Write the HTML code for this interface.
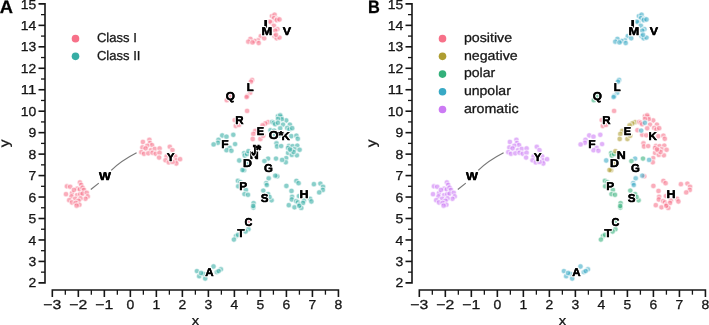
<!DOCTYPE html>
<html><head><meta charset="utf-8"><style>
html,body{margin:0;padding:0;background:#fff;}
svg{display:block;will-change:transform;filter:blur(0.3px);}
text{font-family:"Liberation Sans", sans-serif;fill:#161616;stroke:#161616;stroke-width:0.28px;}
</style></head><body>
<svg width="709" height="325" viewBox="0 0 709 325" text-rendering="geometricPrecision">
<defs><filter id="bl" x="-5%" y="-5%" width="110%" height="110%"><feGaussianBlur stdDeviation="0.6"/></filter></defs>
<rect width="709" height="325" fill="#fff"/>
<g stroke="#161616" stroke-width="1.6" fill="none">
<path d="M38.50,3.90 H45.00 V282.88 H38.50"/>
<line x1="38.50" y1="261.42" x2="45.0" y2="261.42"/>
<line x1="38.50" y1="239.96" x2="45.0" y2="239.96"/>
<line x1="38.50" y1="218.50" x2="45.0" y2="218.50"/>
<line x1="38.50" y1="197.04" x2="45.0" y2="197.04"/>
<line x1="38.50" y1="175.58" x2="45.0" y2="175.58"/>
<line x1="38.50" y1="154.12" x2="45.0" y2="154.12"/>
<line x1="38.50" y1="132.66" x2="45.0" y2="132.66"/>
<line x1="38.50" y1="111.20" x2="45.0" y2="111.20"/>
<line x1="38.50" y1="89.74" x2="45.0" y2="89.74"/>
<line x1="38.50" y1="68.28" x2="45.0" y2="68.28"/>
<line x1="38.50" y1="46.82" x2="45.0" y2="46.82"/>
<line x1="38.50" y1="25.36" x2="45.0" y2="25.36"/>
<line x1="41.00" y1="272.15" x2="45.0" y2="272.15" stroke-width="1.3"/>
<line x1="41.00" y1="250.69" x2="45.0" y2="250.69" stroke-width="1.3"/>
<line x1="41.00" y1="229.23" x2="45.0" y2="229.23" stroke-width="1.3"/>
<line x1="41.00" y1="207.77" x2="45.0" y2="207.77" stroke-width="1.3"/>
<line x1="41.00" y1="186.31" x2="45.0" y2="186.31" stroke-width="1.3"/>
<line x1="41.00" y1="164.85" x2="45.0" y2="164.85" stroke-width="1.3"/>
<line x1="41.00" y1="143.39" x2="45.0" y2="143.39" stroke-width="1.3"/>
<line x1="41.00" y1="121.93" x2="45.0" y2="121.93" stroke-width="1.3"/>
<line x1="41.00" y1="100.47" x2="45.0" y2="100.47" stroke-width="1.3"/>
<line x1="41.00" y1="79.01" x2="45.0" y2="79.01" stroke-width="1.3"/>
<line x1="41.00" y1="57.55" x2="45.0" y2="57.55" stroke-width="1.3"/>
<line x1="41.00" y1="36.09" x2="45.0" y2="36.09" stroke-width="1.3"/>
<line x1="41.00" y1="14.63" x2="45.0" y2="14.63" stroke-width="1.3"/>
<path d="M52.32,297.00 V290.00 H338.43 V297.00"/>
<line x1="78.33" y1="290.0" x2="78.33" y2="297.00"/>
<line x1="104.34" y1="290.0" x2="104.34" y2="297.00"/>
<line x1="130.35" y1="290.0" x2="130.35" y2="297.00"/>
<line x1="156.36" y1="290.0" x2="156.36" y2="297.00"/>
<line x1="182.37" y1="290.0" x2="182.37" y2="297.00"/>
<line x1="208.38" y1="290.0" x2="208.38" y2="297.00"/>
<line x1="234.39" y1="290.0" x2="234.39" y2="297.00"/>
<line x1="260.40" y1="290.0" x2="260.40" y2="297.00"/>
<line x1="286.41" y1="290.0" x2="286.41" y2="297.00"/>
<line x1="312.42" y1="290.0" x2="312.42" y2="297.00"/>
<line x1="65.32" y1="290.0" x2="65.32" y2="294.70" stroke-width="1.3"/>
<line x1="91.33" y1="290.0" x2="91.33" y2="294.70" stroke-width="1.3"/>
<line x1="117.34" y1="290.0" x2="117.34" y2="294.70" stroke-width="1.3"/>
<line x1="143.35" y1="290.0" x2="143.35" y2="294.70" stroke-width="1.3"/>
<line x1="169.37" y1="290.0" x2="169.37" y2="294.70" stroke-width="1.3"/>
<line x1="195.38" y1="290.0" x2="195.38" y2="294.70" stroke-width="1.3"/>
<line x1="221.38" y1="290.0" x2="221.38" y2="294.70" stroke-width="1.3"/>
<line x1="247.39" y1="290.0" x2="247.39" y2="294.70" stroke-width="1.3"/>
<line x1="273.40" y1="290.0" x2="273.40" y2="294.70" stroke-width="1.3"/>
<line x1="299.41" y1="290.0" x2="299.41" y2="294.70" stroke-width="1.3"/>
<line x1="325.43" y1="290.0" x2="325.43" y2="294.70" stroke-width="1.3"/>
</g>
<text x="36.30" y="287.48" font-size="12.93" text-anchor="end" textLength="7.76" lengthAdjust="spacingAndGlyphs">2</text>
<text x="36.30" y="266.02" font-size="12.93" text-anchor="end" textLength="7.76" lengthAdjust="spacingAndGlyphs">3</text>
<text x="36.30" y="244.56" font-size="12.93" text-anchor="end" textLength="7.76" lengthAdjust="spacingAndGlyphs">4</text>
<text x="36.30" y="223.10" font-size="12.93" text-anchor="end" textLength="7.76" lengthAdjust="spacingAndGlyphs">5</text>
<text x="36.30" y="201.64" font-size="12.93" text-anchor="end" textLength="7.76" lengthAdjust="spacingAndGlyphs">6</text>
<text x="36.30" y="180.18" font-size="12.93" text-anchor="end" textLength="7.76" lengthAdjust="spacingAndGlyphs">7</text>
<text x="36.30" y="158.72" font-size="12.93" text-anchor="end" textLength="7.76" lengthAdjust="spacingAndGlyphs">8</text>
<text x="36.30" y="137.26" font-size="12.93" text-anchor="end" textLength="7.76" lengthAdjust="spacingAndGlyphs">9</text>
<text x="36.30" y="115.80" font-size="12.93" text-anchor="end" textLength="15.52" lengthAdjust="spacingAndGlyphs">10</text>
<text x="36.30" y="94.34" font-size="12.93" text-anchor="end" textLength="15.52" lengthAdjust="spacingAndGlyphs">11</text>
<text x="36.30" y="72.88" font-size="12.93" text-anchor="end" textLength="15.52" lengthAdjust="spacingAndGlyphs">12</text>
<text x="36.30" y="51.42" font-size="12.93" text-anchor="end" textLength="15.52" lengthAdjust="spacingAndGlyphs">13</text>
<text x="36.30" y="29.96" font-size="12.93" text-anchor="end" textLength="15.52" lengthAdjust="spacingAndGlyphs">14</text>
<text x="36.30" y="8.50" font-size="12.93" text-anchor="end" textLength="15.52" lengthAdjust="spacingAndGlyphs">15</text>
<text x="52.32" y="308.70" font-size="12.93" text-anchor="middle" textLength="17.98" lengthAdjust="spacingAndGlyphs">−3</text>
<text x="78.33" y="308.70" font-size="12.93" text-anchor="middle" textLength="17.98" lengthAdjust="spacingAndGlyphs">−2</text>
<text x="104.34" y="308.70" font-size="12.93" text-anchor="middle" textLength="17.98" lengthAdjust="spacingAndGlyphs">−1</text>
<text x="130.35" y="308.70" font-size="12.93" text-anchor="middle" textLength="7.76" lengthAdjust="spacingAndGlyphs">0</text>
<text x="156.36" y="308.70" font-size="12.93" text-anchor="middle" textLength="7.76" lengthAdjust="spacingAndGlyphs">1</text>
<text x="182.37" y="308.70" font-size="12.93" text-anchor="middle" textLength="7.76" lengthAdjust="spacingAndGlyphs">2</text>
<text x="208.38" y="308.70" font-size="12.93" text-anchor="middle" textLength="7.76" lengthAdjust="spacingAndGlyphs">3</text>
<text x="234.39" y="308.70" font-size="12.93" text-anchor="middle" textLength="7.76" lengthAdjust="spacingAndGlyphs">4</text>
<text x="260.40" y="308.70" font-size="12.93" text-anchor="middle" textLength="7.76" lengthAdjust="spacingAndGlyphs">5</text>
<text x="286.41" y="308.70" font-size="12.93" text-anchor="middle" textLength="7.76" lengthAdjust="spacingAndGlyphs">6</text>
<text x="312.42" y="308.70" font-size="12.93" text-anchor="middle" textLength="7.76" lengthAdjust="spacingAndGlyphs">7</text>
<text x="338.43" y="308.70" font-size="12.93" text-anchor="middle" textLength="7.76" lengthAdjust="spacingAndGlyphs">8</text>
<text x="195.35" y="324.60" font-size="13.24" text-anchor="middle" textLength="7.40" lengthAdjust="spacingAndGlyphs">x</text>
<text x="0.00" y="0.00" font-size="13.99" text-anchor="middle" textLength="7.81" lengthAdjust="spacingAndGlyphs" transform="translate(9.30,143.3) rotate(-90)">y</text>
<text x="-0.2" y="12.9" font-size="18" font-weight="bold" textLength="13.23" lengthAdjust="spacingAndGlyphs" style="fill:#000">A</text>
<circle cx="75.50" cy="38.65" r="3.8" fill="#f77189"/>
<text x="96.90" y="42.00" font-size="13.03" text-anchor="start" textLength="39.90" lengthAdjust="spacingAndGlyphs">Class I</text>
<circle cx="75.50" cy="56.37" r="3.8" fill="#36ada4"/>
<text x="96.90" y="59.72" font-size="13.03" text-anchor="start" textLength="43.52" lengthAdjust="spacingAndGlyphs">Class II</text>
<path d="M90.8,189.5 L98.8,183.1 M111.2,170.4 Q121.0,160.8 136.6,152.8" fill="none" stroke="#777" stroke-width="1.2"/>
<g fill-opacity="0.58" stroke="#fff" stroke-opacity="0.58" stroke-width="1.1" filter="url(#bl)">
<circle cx="66.9" cy="186.3" r="2.7" fill="#f77189"/>
<circle cx="70.2" cy="186.8" r="2.7" fill="#f77189"/>
<circle cx="79.9" cy="182.4" r="2.7" fill="#f77189"/>
<circle cx="81.2" cy="184.9" r="2.7" fill="#f77189"/>
<circle cx="77.1" cy="188.6" r="2.7" fill="#f77189"/>
<circle cx="79.9" cy="189.5" r="2.7" fill="#f77189"/>
<circle cx="82.6" cy="187.7" r="2.7" fill="#f77189"/>
<circle cx="84.0" cy="190.0" r="2.7" fill="#f77189"/>
<circle cx="66.0" cy="194.2" r="2.7" fill="#f77189"/>
<circle cx="72.0" cy="193.2" r="2.7" fill="#f77189"/>
<circle cx="71.5" cy="196.5" r="2.7" fill="#f77189"/>
<circle cx="77.1" cy="195.1" r="2.7" fill="#f77189"/>
<circle cx="80.3" cy="194.2" r="2.7" fill="#f77189"/>
<circle cx="82.6" cy="193.7" r="2.7" fill="#f77189"/>
<circle cx="86.8" cy="192.8" r="2.7" fill="#f77189"/>
<circle cx="87.7" cy="196.5" r="2.7" fill="#f77189"/>
<circle cx="85.4" cy="198.8" r="2.7" fill="#f77189"/>
<circle cx="75.2" cy="198.8" r="2.7" fill="#f77189"/>
<circle cx="69.2" cy="200.2" r="2.7" fill="#f77189"/>
<circle cx="80.5" cy="198.5" r="2.7" fill="#f77189"/>
<circle cx="78.5" cy="200.8" r="2.7" fill="#f77189"/>
<circle cx="73.9" cy="190.0" r="2.7" fill="#f77189"/>
<circle cx="72.0" cy="202.5" r="2.7" fill="#f77189"/>
<circle cx="75.7" cy="202.9" r="2.7" fill="#f77189"/>
<circle cx="79.4" cy="204.8" r="2.7" fill="#f77189"/>
<circle cx="76.6" cy="205.7" r="2.7" fill="#f77189"/>
<circle cx="142.9" cy="142.0" r="2.7" fill="#f77189"/>
<circle cx="149.4" cy="139.8" r="2.7" fill="#f77189"/>
<circle cx="149.9" cy="143.1" r="2.7" fill="#f77189"/>
<circle cx="152.1" cy="145.2" r="2.7" fill="#f77189"/>
<circle cx="147.2" cy="145.8" r="2.7" fill="#f77189"/>
<circle cx="142.4" cy="147.4" r="2.7" fill="#f77189"/>
<circle cx="145.6" cy="148.5" r="2.7" fill="#f77189"/>
<circle cx="151.0" cy="150.1" r="2.7" fill="#f77189"/>
<circle cx="154.8" cy="149.0" r="2.7" fill="#f77189"/>
<circle cx="159.6" cy="148.5" r="2.7" fill="#f77189"/>
<circle cx="141.3" cy="152.2" r="2.7" fill="#f77189"/>
<circle cx="144.0" cy="153.8" r="2.7" fill="#f77189"/>
<circle cx="148.3" cy="153.3" r="2.7" fill="#f77189"/>
<circle cx="152.6" cy="152.8" r="2.7" fill="#f77189"/>
<circle cx="155.8" cy="153.8" r="2.7" fill="#f77189"/>
<circle cx="159.6" cy="152.8" r="2.7" fill="#f77189"/>
<circle cx="159.1" cy="157.6" r="2.7" fill="#f77189"/>
<circle cx="169.8" cy="146.8" r="2.7" fill="#f77189"/>
<circle cx="172.5" cy="150.1" r="2.7" fill="#f77189"/>
<circle cx="166.6" cy="156.5" r="2.7" fill="#f77189"/>
<circle cx="165.5" cy="160.3" r="2.7" fill="#f77189"/>
<circle cx="168.8" cy="162.4" r="2.7" fill="#f77189"/>
<circle cx="175.2" cy="156.5" r="2.7" fill="#f77189"/>
<circle cx="176.3" cy="160.3" r="2.7" fill="#f77189"/>
<circle cx="180.1" cy="159.2" r="2.7" fill="#f77189"/>
<circle cx="176.3" cy="163.5" r="2.7" fill="#f77189"/>
<circle cx="172.5" cy="161.9" r="2.7" fill="#f77189"/>
<circle cx="271.9" cy="16.1" r="2.7" fill="#f77189"/>
<circle cx="274.6" cy="14.7" r="2.7" fill="#f77189"/>
<circle cx="273.9" cy="18.2" r="2.7" fill="#f77189"/>
<circle cx="277.4" cy="18.9" r="2.7" fill="#f77189"/>
<circle cx="276.7" cy="20.2" r="2.7" fill="#f77189"/>
<circle cx="279.5" cy="19.5" r="2.7" fill="#f77189"/>
<circle cx="271.2" cy="22.3" r="2.7" fill="#f77189"/>
<circle cx="269.8" cy="21.6" r="2.7" fill="#f77189"/>
<circle cx="273.9" cy="25.8" r="2.7" fill="#f77189"/>
<circle cx="277.4" cy="29.2" r="2.7" fill="#f77189"/>
<circle cx="275.3" cy="30.6" r="2.7" fill="#f77189"/>
<circle cx="274.6" cy="36.2" r="2.7" fill="#f77189"/>
<circle cx="276.7" cy="38.3" r="2.7" fill="#f77189"/>
<circle cx="279.5" cy="37.6" r="2.7" fill="#f77189"/>
<circle cx="276.0" cy="34.8" r="2.7" fill="#f77189"/>
<circle cx="260.8" cy="36.2" r="2.7" fill="#f77189"/>
<circle cx="264.2" cy="38.3" r="2.7" fill="#f77189"/>
<circle cx="258.0" cy="40.3" r="2.7" fill="#f77189"/>
<circle cx="254.5" cy="41.0" r="2.7" fill="#f77189"/>
<circle cx="250.4" cy="38.9" r="2.7" fill="#f77189"/>
<circle cx="248.3" cy="41.7" r="2.7" fill="#f77189"/>
<circle cx="252.5" cy="42.4" r="2.7" fill="#f77189"/>
<circle cx="258.7" cy="43.1" r="2.7" fill="#f77189"/>
<circle cx="252.1" cy="79.9" r="2.7" fill="#f77189"/>
<circle cx="250.9" cy="81.7" r="2.7" fill="#f77189"/>
<circle cx="250.2" cy="92.8" r="2.7" fill="#f77189"/>
<circle cx="247.2" cy="95.9" r="2.7" fill="#f77189"/>
<circle cx="246.6" cy="97.1" r="2.7" fill="#f77189"/>
<circle cx="230.5" cy="96.5" r="2.7" fill="#f77189"/>
<circle cx="226.8" cy="100.2" r="2.7" fill="#f77189"/>
<circle cx="247.1" cy="110.9" r="2.7" fill="#f77189"/>
<circle cx="234.7" cy="120.1" r="2.7" fill="#f77189"/>
<circle cx="235.8" cy="126.0" r="2.7" fill="#f77189"/>
<circle cx="239.0" cy="124.9" r="2.7" fill="#f77189"/>
<circle cx="268.1" cy="122.2" r="2.7" fill="#f77189"/>
<circle cx="265.3" cy="123.5" r="2.7" fill="#f77189"/>
<circle cx="262.6" cy="125.3" r="2.7" fill="#f77189"/>
<circle cx="255.2" cy="130.9" r="2.7" fill="#f77189"/>
<circle cx="253.3" cy="133.9" r="2.7" fill="#f77189"/>
<circle cx="252.7" cy="139.0" r="2.7" fill="#f77189"/>
<circle cx="260.4" cy="139.0" r="2.7" fill="#f77189"/>
<circle cx="263.2" cy="135.8" r="2.7" fill="#f77189"/>
<circle cx="277.9" cy="116.3" r="2.7" fill="#36ada4"/>
<circle cx="281.2" cy="117.2" r="2.7" fill="#36ada4"/>
<circle cx="286.2" cy="120.5" r="2.7" fill="#36ada4"/>
<circle cx="280.2" cy="115.3" r="2.7" fill="#36ada4"/>
<circle cx="281.8" cy="119.2" r="2.7" fill="#36ada4"/>
<circle cx="278.0" cy="119.0" r="2.7" fill="#36ada4"/>
<circle cx="272.2" cy="122.0" r="2.7" fill="#36ada4"/>
<circle cx="273.8" cy="122.8" r="2.7" fill="#36ada4"/>
<circle cx="275.2" cy="124.2" r="2.7" fill="#36ada4"/>
<circle cx="283.0" cy="124.6" r="2.7" fill="#36ada4"/>
<circle cx="289.9" cy="124.6" r="2.7" fill="#36ada4"/>
<circle cx="280.2" cy="128.3" r="2.7" fill="#36ada4"/>
<circle cx="287.2" cy="127.9" r="2.7" fill="#36ada4"/>
<circle cx="270.5" cy="130.2" r="2.7" fill="#36ada4"/>
<circle cx="275.2" cy="134.8" r="2.7" fill="#36ada4"/>
<circle cx="279.3" cy="135.3" r="2.7" fill="#36ada4"/>
<circle cx="291.3" cy="136.2" r="2.7" fill="#36ada4"/>
<circle cx="296.4" cy="135.7" r="2.7" fill="#36ada4"/>
<circle cx="276.5" cy="143.3" r="2.7" fill="#36ada4"/>
<circle cx="277.0" cy="146.5" r="2.7" fill="#36ada4"/>
<circle cx="281.2" cy="146.1" r="2.7" fill="#36ada4"/>
<circle cx="289.0" cy="146.0" r="2.7" fill="#36ada4"/>
<circle cx="288.1" cy="147.9" r="2.7" fill="#36ada4"/>
<circle cx="292.7" cy="146.1" r="2.7" fill="#36ada4"/>
<circle cx="297.3" cy="145.6" r="2.7" fill="#36ada4"/>
<circle cx="294.6" cy="149.3" r="2.7" fill="#36ada4"/>
<circle cx="299.6" cy="149.8" r="2.7" fill="#36ada4"/>
<circle cx="288.1" cy="153.0" r="2.7" fill="#36ada4"/>
<circle cx="291.8" cy="154.9" r="2.7" fill="#36ada4"/>
<circle cx="296.9" cy="155.3" r="2.7" fill="#36ada4"/>
<circle cx="286.2" cy="158.1" r="2.7" fill="#36ada4"/>
<circle cx="285.8" cy="162.3" r="2.7" fill="#36ada4"/>
<circle cx="291.5" cy="150.5" r="2.7" fill="#36ada4"/>
<circle cx="297.8" cy="138.8" r="2.7" fill="#36ada4"/>
<circle cx="289.5" cy="129.5" r="2.7" fill="#36ada4"/>
<circle cx="292.2" cy="128.2" r="2.7" fill="#36ada4"/>
<circle cx="293.5" cy="152.0" r="2.7" fill="#36ada4"/>
<circle cx="290.0" cy="149.5" r="2.7" fill="#36ada4"/>
<circle cx="277.3" cy="176.3" r="2.7" fill="#36ada4"/>
<circle cx="277.9" cy="122.8" r="2.7" fill="#36ada4"/>
<circle cx="274.2" cy="130.6" r="2.7" fill="#36ada4"/>
<circle cx="222.2" cy="135.5" r="2.7" fill="#36ada4"/>
<circle cx="226.5" cy="136.7" r="2.7" fill="#36ada4"/>
<circle cx="233.3" cy="134.8" r="2.7" fill="#36ada4"/>
<circle cx="218.5" cy="139.8" r="2.7" fill="#36ada4"/>
<circle cx="217.9" cy="142.8" r="2.7" fill="#36ada4"/>
<circle cx="213.6" cy="144.4" r="2.7" fill="#36ada4"/>
<circle cx="235.1" cy="144.1" r="2.7" fill="#36ada4"/>
<circle cx="229.6" cy="147.8" r="2.7" fill="#36ada4"/>
<circle cx="226.5" cy="150.2" r="2.7" fill="#36ada4"/>
<circle cx="231.4" cy="150.8" r="2.7" fill="#36ada4"/>
<circle cx="244.1" cy="153.1" r="2.7" fill="#36ada4"/>
<circle cx="244.7" cy="155.5" r="2.7" fill="#36ada4"/>
<circle cx="247.0" cy="154.0" r="2.7" fill="#36ada4"/>
<circle cx="248.4" cy="151.2" r="2.7" fill="#36ada4"/>
<circle cx="246.5" cy="163.5" r="2.7" fill="#36ada4"/>
<circle cx="244.1" cy="170.3" r="2.7" fill="#36ada4"/>
<circle cx="242.5" cy="170.0" r="2.7" fill="#36ada4"/>
<circle cx="239.2" cy="160.5" r="2.7" fill="#36ada4"/>
<circle cx="268.1" cy="158.6" r="2.7" fill="#36ada4"/>
<circle cx="268.7" cy="178.3" r="2.7" fill="#36ada4"/>
<circle cx="266.2" cy="183.2" r="2.7" fill="#36ada4"/>
<circle cx="266.8" cy="185.1" r="2.7" fill="#36ada4"/>
<circle cx="275.3" cy="175.7" r="2.7" fill="#36ada4"/>
<circle cx="282.1" cy="159.9" r="2.7" fill="#36ada4"/>
<circle cx="264.4" cy="161.1" r="2.7" fill="#36ada4"/>
<circle cx="276.0" cy="158.6" r="2.7" fill="#36ada4"/>
<circle cx="237.9" cy="180.8" r="2.7" fill="#36ada4"/>
<circle cx="240.4" cy="182.3" r="2.7" fill="#36ada4"/>
<circle cx="238.2" cy="186.3" r="2.7" fill="#36ada4"/>
<circle cx="245.9" cy="189.9" r="2.7" fill="#36ada4"/>
<circle cx="244.5" cy="194.1" r="2.7" fill="#36ada4"/>
<circle cx="248.0" cy="194.8" r="2.7" fill="#36ada4"/>
<circle cx="263.3" cy="190.6" r="2.7" fill="#36ada4"/>
<circle cx="268.1" cy="194.1" r="2.7" fill="#36ada4"/>
<circle cx="271.6" cy="200.3" r="2.7" fill="#36ada4"/>
<circle cx="269.5" cy="196.9" r="2.7" fill="#36ada4"/>
<circle cx="253.6" cy="203.1" r="2.7" fill="#36ada4"/>
<circle cx="253.4" cy="207.5" r="2.7" fill="#36ada4"/>
<circle cx="296.4" cy="181.0" r="2.7" fill="#36ada4"/>
<circle cx="298.6" cy="183.2" r="2.7" fill="#36ada4"/>
<circle cx="286.4" cy="186.0" r="2.7" fill="#36ada4"/>
<circle cx="291.5" cy="191.0" r="2.7" fill="#36ada4"/>
<circle cx="313.9" cy="184.2" r="2.7" fill="#36ada4"/>
<circle cx="320.4" cy="183.6" r="2.7" fill="#36ada4"/>
<circle cx="323.1" cy="186.8" r="2.7" fill="#36ada4"/>
<circle cx="322.8" cy="190.0" r="2.7" fill="#36ada4"/>
<circle cx="319.2" cy="192.4" r="2.7" fill="#36ada4"/>
<circle cx="292.1" cy="196.8" r="2.7" fill="#36ada4"/>
<circle cx="291.8" cy="199.5" r="2.7" fill="#36ada4"/>
<circle cx="298.9" cy="196.1" r="2.7" fill="#36ada4"/>
<circle cx="296.2" cy="201.2" r="2.7" fill="#36ada4"/>
<circle cx="297.9" cy="202.5" r="2.7" fill="#36ada4"/>
<circle cx="299.6" cy="204.6" r="2.7" fill="#36ada4"/>
<circle cx="304.0" cy="200.5" r="2.7" fill="#36ada4"/>
<circle cx="303.0" cy="203.0" r="2.7" fill="#36ada4"/>
<circle cx="310.1" cy="198.8" r="2.7" fill="#36ada4"/>
<circle cx="311.4" cy="201.5" r="2.7" fill="#36ada4"/>
<circle cx="288.8" cy="205.2" r="2.7" fill="#36ada4"/>
<circle cx="294.5" cy="207.3" r="2.7" fill="#36ada4"/>
<circle cx="301.3" cy="207.9" r="2.7" fill="#36ada4"/>
<circle cx="299.2" cy="205.8" r="2.7" fill="#36ada4"/>
<circle cx="253.2" cy="206.0" r="2.7" fill="#36ada4"/>
<circle cx="248.4" cy="229.2" r="2.7" fill="#36ada4"/>
<circle cx="245.6" cy="231.5" r="2.7" fill="#36ada4"/>
<circle cx="249.1" cy="220.8" r="2.7" fill="#f77189"/>
<circle cx="235.9" cy="236.2" r="2.7" fill="#36ada4"/>
<circle cx="233.9" cy="239.6" r="2.7" fill="#36ada4"/>
<circle cx="238.0" cy="234.8" r="2.7" fill="#36ada4"/>
<circle cx="196.9" cy="271.1" r="2.7" fill="#36ada4"/>
<circle cx="199.2" cy="276.2" r="2.7" fill="#36ada4"/>
<circle cx="203.4" cy="273.9" r="2.7" fill="#36ada4"/>
<circle cx="205.2" cy="278.5" r="2.7" fill="#36ada4"/>
<circle cx="213.5" cy="266.5" r="2.7" fill="#36ada4"/>
<circle cx="216.8" cy="272.1" r="2.7" fill="#36ada4"/>
<circle cx="220.9" cy="269.3" r="2.7" fill="#36ada4"/>
<circle cx="218.6" cy="271.1" r="2.7" fill="#36ada4"/>
<circle cx="201.1" cy="273.0" r="2.7" fill="#36ada4"/>
</g>
<g>
<text x="99.09" y="179.99" font-size="11.44" font-weight="bold" textLength="11.91" lengthAdjust="spacingAndGlyphs" style="fill:#000;stroke:#fff;stroke-width:2.4px;paint-order:stroke;stroke-linejoin:round">W</text><text x="99.09" y="179.99" font-size="11.44" font-weight="bold" textLength="11.91" lengthAdjust="spacingAndGlyphs" style="fill:#000;stroke:#000;stroke-width:0.4px">W</text>
<text x="166.73" y="161.14" font-size="11.44" font-weight="bold" textLength="7.82" lengthAdjust="spacingAndGlyphs" style="fill:#000;stroke:#fff;stroke-width:2.4px;paint-order:stroke;stroke-linejoin:round">Y</text><text x="166.73" y="161.14" font-size="11.44" font-weight="bold" textLength="7.82" lengthAdjust="spacingAndGlyphs" style="fill:#000;stroke:#000;stroke-width:0.4px">Y</text>
<text x="263.84" y="28.24" font-size="11.44" font-weight="bold" textLength="4.02" lengthAdjust="spacingAndGlyphs" style="fill:#000;stroke:#fff;stroke-width:2.4px;paint-order:stroke;stroke-linejoin:round">I</text><text x="263.84" y="28.24" font-size="11.44" font-weight="bold" textLength="4.02" lengthAdjust="spacingAndGlyphs" style="fill:#000;stroke:#000;stroke-width:0.4px">I</text>
<text x="261.53" y="35.29" font-size="11.44" font-weight="bold" textLength="10.75" lengthAdjust="spacingAndGlyphs" style="fill:#000;stroke:#fff;stroke-width:2.4px;paint-order:stroke;stroke-linejoin:round">M</text><text x="261.53" y="35.29" font-size="11.44" font-weight="bold" textLength="10.75" lengthAdjust="spacingAndGlyphs" style="fill:#000;stroke:#000;stroke-width:0.4px">M</text>
<text x="282.72" y="35.29" font-size="11.44" font-weight="bold" textLength="8.36" lengthAdjust="spacingAndGlyphs" style="fill:#000;stroke:#fff;stroke-width:2.4px;paint-order:stroke;stroke-linejoin:round">V</text><text x="282.72" y="35.29" font-size="11.44" font-weight="bold" textLength="8.36" lengthAdjust="spacingAndGlyphs" style="fill:#000;stroke:#000;stroke-width:0.4px">V</text>
<text x="246.66" y="91.04" font-size="11.44" font-weight="bold" textLength="6.88" lengthAdjust="spacingAndGlyphs" style="fill:#000;stroke:#fff;stroke-width:2.4px;paint-order:stroke;stroke-linejoin:round">L</text><text x="246.66" y="91.04" font-size="11.44" font-weight="bold" textLength="6.88" lengthAdjust="spacingAndGlyphs" style="fill:#000;stroke:#000;stroke-width:0.4px">L</text>
<text x="225.82" y="99.94" font-size="11.44" font-weight="bold" textLength="9.18" lengthAdjust="spacingAndGlyphs" style="fill:#000;stroke:#fff;stroke-width:2.4px;paint-order:stroke;stroke-linejoin:round">Q</text><text x="225.82" y="99.94" font-size="11.44" font-weight="bold" textLength="9.18" lengthAdjust="spacingAndGlyphs" style="fill:#000;stroke:#000;stroke-width:0.4px">Q</text>
<text x="235.32" y="123.74" font-size="11.44" font-weight="bold" textLength="8.32" lengthAdjust="spacingAndGlyphs" style="fill:#000;stroke:#fff;stroke-width:2.4px;paint-order:stroke;stroke-linejoin:round">R</text><text x="235.32" y="123.74" font-size="11.44" font-weight="bold" textLength="8.32" lengthAdjust="spacingAndGlyphs" style="fill:#000;stroke:#000;stroke-width:0.4px">R</text>
<text x="256.76" y="135.04" font-size="11.44" font-weight="bold" textLength="7.38" lengthAdjust="spacingAndGlyphs" style="fill:#000;stroke:#fff;stroke-width:2.4px;paint-order:stroke;stroke-linejoin:round">E</text><text x="256.76" y="135.04" font-size="11.44" font-weight="bold" textLength="7.38" lengthAdjust="spacingAndGlyphs" style="fill:#000;stroke:#000;stroke-width:0.4px">E</text>
<text x="281.53" y="139.79" font-size="11.44" font-weight="bold" textLength="8.37" lengthAdjust="spacingAndGlyphs" style="fill:#000;stroke:#fff;stroke-width:2.4px;paint-order:stroke;stroke-linejoin:round">K</text><text x="281.53" y="139.79" font-size="11.44" font-weight="bold" textLength="8.37" lengthAdjust="spacingAndGlyphs" style="fill:#000;stroke:#000;stroke-width:0.4px">K</text>
<text x="268.68" y="138.69" font-size="11.44" font-weight="bold" textLength="14.83" lengthAdjust="spacingAndGlyphs" style="fill:#000;stroke:#fff;stroke-width:2.4px;paint-order:stroke;stroke-linejoin:round">O*</text><text x="268.68" y="138.69" font-size="11.44" font-weight="bold" textLength="14.83" lengthAdjust="spacingAndGlyphs" style="fill:#000;stroke:#000;stroke-width:0.4px">O*</text>
<text x="221.38" y="147.84" font-size="11.44" font-weight="bold" textLength="7.38" lengthAdjust="spacingAndGlyphs" style="fill:#000;stroke:#fff;stroke-width:2.4px;paint-order:stroke;stroke-linejoin:round">F</text><text x="221.38" y="147.84" font-size="11.44" font-weight="bold" textLength="7.38" lengthAdjust="spacingAndGlyphs" style="fill:#000;stroke:#000;stroke-width:0.4px">F</text>
<text x="249.78" y="159.24" font-size="11.44" font-weight="bold" textLength="9.04" lengthAdjust="spacingAndGlyphs" style="fill:#000;stroke:#fff;stroke-width:2.4px;paint-order:stroke;stroke-linejoin:round">N</text><text x="249.78" y="159.24" font-size="11.44" font-weight="bold" textLength="9.04" lengthAdjust="spacingAndGlyphs" style="fill:#000;stroke:#000;stroke-width:0.4px">N</text>
<text transform="translate(251.38,145.30) scale(0.72,1.25)" x="0" y="7.87" font-size="11.44" font-weight="bold" style="fill:#000;stroke:#fff;stroke-width:2.88px;paint-order:stroke;stroke-linejoin:round">J</text>
<text x="256.06" y="154.24" font-size="13" font-weight="bold" style="fill:#000;stroke:#fff;stroke-width:2.88px;paint-order:stroke;stroke-linejoin:round">*</text>
<text transform="translate(251.38,145.30) scale(0.72,1.25)" x="0" y="7.87" font-size="11.44" font-weight="bold" style="fill:#000;stroke:#000;stroke-width:0.8px">J</text>
<text x="256.06" y="154.24" font-size="13" font-weight="bold" style="fill:#000;stroke:#000;stroke-width:0.8px">*</text>
<text x="242.96" y="167.19" font-size="11.44" font-weight="bold" textLength="8.96" lengthAdjust="spacingAndGlyphs" style="fill:#000;stroke:#fff;stroke-width:2.4px;paint-order:stroke;stroke-linejoin:round">D</text><text x="242.96" y="167.19" font-size="11.44" font-weight="bold" textLength="8.96" lengthAdjust="spacingAndGlyphs" style="fill:#000;stroke:#000;stroke-width:0.4px">D</text>
<text x="263.99" y="171.94" font-size="11.44" font-weight="bold" textLength="8.86" lengthAdjust="spacingAndGlyphs" style="fill:#000;stroke:#fff;stroke-width:2.4px;paint-order:stroke;stroke-linejoin:round">G</text><text x="263.99" y="171.94" font-size="11.44" font-weight="bold" textLength="8.86" lengthAdjust="spacingAndGlyphs" style="fill:#000;stroke:#000;stroke-width:0.4px">G</text>
<text x="239.35" y="190.44" font-size="11.44" font-weight="bold" textLength="7.92" lengthAdjust="spacingAndGlyphs" style="fill:#000;stroke:#fff;stroke-width:2.4px;paint-order:stroke;stroke-linejoin:round">P</text><text x="239.35" y="190.44" font-size="11.44" font-weight="bold" textLength="7.92" lengthAdjust="spacingAndGlyphs" style="fill:#000;stroke:#000;stroke-width:0.4px">P</text>
<text x="260.87" y="202.04" font-size="11.44" font-weight="bold" textLength="7.78" lengthAdjust="spacingAndGlyphs" style="fill:#000;stroke:#fff;stroke-width:2.4px;paint-order:stroke;stroke-linejoin:round">S</text><text x="260.87" y="202.04" font-size="11.44" font-weight="bold" textLength="7.78" lengthAdjust="spacingAndGlyphs" style="fill:#000;stroke:#000;stroke-width:0.4px">S</text>
<text x="299.63" y="197.64" font-size="11.44" font-weight="bold" textLength="9.04" lengthAdjust="spacingAndGlyphs" style="fill:#000;stroke:#fff;stroke-width:2.4px;paint-order:stroke;stroke-linejoin:round">H</text><text x="299.63" y="197.64" font-size="11.44" font-weight="bold" textLength="9.04" lengthAdjust="spacingAndGlyphs" style="fill:#000;stroke:#000;stroke-width:0.4px">H</text>
<text x="244.46" y="225.99" font-size="11.44" font-weight="bold" textLength="7.93" lengthAdjust="spacingAndGlyphs" style="fill:#000;stroke:#fff;stroke-width:2.4px;paint-order:stroke;stroke-linejoin:round">C</text><text x="244.46" y="225.99" font-size="11.44" font-weight="bold" textLength="7.93" lengthAdjust="spacingAndGlyphs" style="fill:#000;stroke:#000;stroke-width:0.4px">C</text>
<text x="237.21" y="237.29" font-size="11.44" font-weight="bold" textLength="7.37" lengthAdjust="spacingAndGlyphs" style="fill:#000;stroke:#fff;stroke-width:2.4px;paint-order:stroke;stroke-linejoin:round">T</text><text x="237.21" y="237.29" font-size="11.44" font-weight="bold" textLength="7.37" lengthAdjust="spacingAndGlyphs" style="fill:#000;stroke:#000;stroke-width:0.4px">T</text>
<text x="205.18" y="276.29" font-size="11.44" font-weight="bold" textLength="8.36" lengthAdjust="spacingAndGlyphs" style="fill:#000;stroke:#fff;stroke-width:2.4px;paint-order:stroke;stroke-linejoin:round">A</text><text x="205.18" y="276.29" font-size="11.44" font-weight="bold" textLength="8.36" lengthAdjust="spacingAndGlyphs" style="fill:#000;stroke:#000;stroke-width:0.4px">A</text>
</g>
<g stroke="#161616" stroke-width="1.6" fill="none">
<path d="M405.50,3.90 H412.00 V282.88 H405.50"/>
<line x1="405.50" y1="261.42" x2="412.0" y2="261.42"/>
<line x1="405.50" y1="239.96" x2="412.0" y2="239.96"/>
<line x1="405.50" y1="218.50" x2="412.0" y2="218.50"/>
<line x1="405.50" y1="197.04" x2="412.0" y2="197.04"/>
<line x1="405.50" y1="175.58" x2="412.0" y2="175.58"/>
<line x1="405.50" y1="154.12" x2="412.0" y2="154.12"/>
<line x1="405.50" y1="132.66" x2="412.0" y2="132.66"/>
<line x1="405.50" y1="111.20" x2="412.0" y2="111.20"/>
<line x1="405.50" y1="89.74" x2="412.0" y2="89.74"/>
<line x1="405.50" y1="68.28" x2="412.0" y2="68.28"/>
<line x1="405.50" y1="46.82" x2="412.0" y2="46.82"/>
<line x1="405.50" y1="25.36" x2="412.0" y2="25.36"/>
<line x1="408.00" y1="272.15" x2="412.0" y2="272.15" stroke-width="1.3"/>
<line x1="408.00" y1="250.69" x2="412.0" y2="250.69" stroke-width="1.3"/>
<line x1="408.00" y1="229.23" x2="412.0" y2="229.23" stroke-width="1.3"/>
<line x1="408.00" y1="207.77" x2="412.0" y2="207.77" stroke-width="1.3"/>
<line x1="408.00" y1="186.31" x2="412.0" y2="186.31" stroke-width="1.3"/>
<line x1="408.00" y1="164.85" x2="412.0" y2="164.85" stroke-width="1.3"/>
<line x1="408.00" y1="143.39" x2="412.0" y2="143.39" stroke-width="1.3"/>
<line x1="408.00" y1="121.93" x2="412.0" y2="121.93" stroke-width="1.3"/>
<line x1="408.00" y1="100.47" x2="412.0" y2="100.47" stroke-width="1.3"/>
<line x1="408.00" y1="79.01" x2="412.0" y2="79.01" stroke-width="1.3"/>
<line x1="408.00" y1="57.55" x2="412.0" y2="57.55" stroke-width="1.3"/>
<line x1="408.00" y1="36.09" x2="412.0" y2="36.09" stroke-width="1.3"/>
<line x1="408.00" y1="14.63" x2="412.0" y2="14.63" stroke-width="1.3"/>
<path d="M419.32,297.00 V290.00 H705.43 V297.00"/>
<line x1="445.33" y1="290.0" x2="445.33" y2="297.00"/>
<line x1="471.34" y1="290.0" x2="471.34" y2="297.00"/>
<line x1="497.35" y1="290.0" x2="497.35" y2="297.00"/>
<line x1="523.36" y1="290.0" x2="523.36" y2="297.00"/>
<line x1="549.37" y1="290.0" x2="549.37" y2="297.00"/>
<line x1="575.38" y1="290.0" x2="575.38" y2="297.00"/>
<line x1="601.39" y1="290.0" x2="601.39" y2="297.00"/>
<line x1="627.40" y1="290.0" x2="627.40" y2="297.00"/>
<line x1="653.41" y1="290.0" x2="653.41" y2="297.00"/>
<line x1="679.42" y1="290.0" x2="679.42" y2="297.00"/>
<line x1="432.32" y1="290.0" x2="432.32" y2="294.70" stroke-width="1.3"/>
<line x1="458.33" y1="290.0" x2="458.33" y2="294.70" stroke-width="1.3"/>
<line x1="484.35" y1="290.0" x2="484.35" y2="294.70" stroke-width="1.3"/>
<line x1="510.36" y1="290.0" x2="510.36" y2="294.70" stroke-width="1.3"/>
<line x1="536.37" y1="290.0" x2="536.37" y2="294.70" stroke-width="1.3"/>
<line x1="562.38" y1="290.0" x2="562.38" y2="294.70" stroke-width="1.3"/>
<line x1="588.38" y1="290.0" x2="588.38" y2="294.70" stroke-width="1.3"/>
<line x1="614.39" y1="290.0" x2="614.39" y2="294.70" stroke-width="1.3"/>
<line x1="640.40" y1="290.0" x2="640.40" y2="294.70" stroke-width="1.3"/>
<line x1="666.41" y1="290.0" x2="666.41" y2="294.70" stroke-width="1.3"/>
<line x1="692.42" y1="290.0" x2="692.42" y2="294.70" stroke-width="1.3"/>
</g>
<text x="403.30" y="287.48" font-size="12.93" text-anchor="end" textLength="7.76" lengthAdjust="spacingAndGlyphs">2</text>
<text x="403.30" y="266.02" font-size="12.93" text-anchor="end" textLength="7.76" lengthAdjust="spacingAndGlyphs">3</text>
<text x="403.30" y="244.56" font-size="12.93" text-anchor="end" textLength="7.76" lengthAdjust="spacingAndGlyphs">4</text>
<text x="403.30" y="223.10" font-size="12.93" text-anchor="end" textLength="7.76" lengthAdjust="spacingAndGlyphs">5</text>
<text x="403.30" y="201.64" font-size="12.93" text-anchor="end" textLength="7.76" lengthAdjust="spacingAndGlyphs">6</text>
<text x="403.30" y="180.18" font-size="12.93" text-anchor="end" textLength="7.76" lengthAdjust="spacingAndGlyphs">7</text>
<text x="403.30" y="158.72" font-size="12.93" text-anchor="end" textLength="7.76" lengthAdjust="spacingAndGlyphs">8</text>
<text x="403.30" y="137.26" font-size="12.93" text-anchor="end" textLength="7.76" lengthAdjust="spacingAndGlyphs">9</text>
<text x="403.30" y="115.80" font-size="12.93" text-anchor="end" textLength="15.52" lengthAdjust="spacingAndGlyphs">10</text>
<text x="403.30" y="94.34" font-size="12.93" text-anchor="end" textLength="15.52" lengthAdjust="spacingAndGlyphs">11</text>
<text x="403.30" y="72.88" font-size="12.93" text-anchor="end" textLength="15.52" lengthAdjust="spacingAndGlyphs">12</text>
<text x="403.30" y="51.42" font-size="12.93" text-anchor="end" textLength="15.52" lengthAdjust="spacingAndGlyphs">13</text>
<text x="403.30" y="29.96" font-size="12.93" text-anchor="end" textLength="15.52" lengthAdjust="spacingAndGlyphs">14</text>
<text x="403.30" y="8.50" font-size="12.93" text-anchor="end" textLength="15.52" lengthAdjust="spacingAndGlyphs">15</text>
<text x="419.32" y="308.70" font-size="12.93" text-anchor="middle" textLength="17.98" lengthAdjust="spacingAndGlyphs">−3</text>
<text x="445.33" y="308.70" font-size="12.93" text-anchor="middle" textLength="17.98" lengthAdjust="spacingAndGlyphs">−2</text>
<text x="471.34" y="308.70" font-size="12.93" text-anchor="middle" textLength="17.98" lengthAdjust="spacingAndGlyphs">−1</text>
<text x="497.35" y="308.70" font-size="12.93" text-anchor="middle" textLength="7.76" lengthAdjust="spacingAndGlyphs">0</text>
<text x="523.36" y="308.70" font-size="12.93" text-anchor="middle" textLength="7.76" lengthAdjust="spacingAndGlyphs">1</text>
<text x="549.37" y="308.70" font-size="12.93" text-anchor="middle" textLength="7.76" lengthAdjust="spacingAndGlyphs">2</text>
<text x="575.38" y="308.70" font-size="12.93" text-anchor="middle" textLength="7.76" lengthAdjust="spacingAndGlyphs">3</text>
<text x="601.39" y="308.70" font-size="12.93" text-anchor="middle" textLength="7.76" lengthAdjust="spacingAndGlyphs">4</text>
<text x="627.40" y="308.70" font-size="12.93" text-anchor="middle" textLength="7.76" lengthAdjust="spacingAndGlyphs">5</text>
<text x="653.41" y="308.70" font-size="12.93" text-anchor="middle" textLength="7.76" lengthAdjust="spacingAndGlyphs">6</text>
<text x="679.42" y="308.70" font-size="12.93" text-anchor="middle" textLength="7.76" lengthAdjust="spacingAndGlyphs">7</text>
<text x="705.43" y="308.70" font-size="12.93" text-anchor="middle" textLength="7.76" lengthAdjust="spacingAndGlyphs">8</text>
<text x="562.35" y="324.60" font-size="13.24" text-anchor="middle" textLength="7.40" lengthAdjust="spacingAndGlyphs">x</text>
<text x="0.00" y="0.00" font-size="13.99" text-anchor="middle" textLength="7.81" lengthAdjust="spacingAndGlyphs" transform="translate(376.30,143.3) rotate(-90)">y</text>
<text x="367.95" y="12.9" font-size="18" font-weight="bold" textLength="11.84" lengthAdjust="spacingAndGlyphs" style="fill:#000">B</text>
<circle cx="442.50" cy="38.65" r="3.8" fill="#f77189"/>
<text x="463.90" y="42.00" font-size="13.03" text-anchor="start" textLength="48.25" lengthAdjust="spacingAndGlyphs">positive</text>
<circle cx="442.50" cy="56.37" r="3.8" fill="#ae9d31"/>
<text x="463.90" y="59.72" font-size="13.03" text-anchor="start" textLength="53.79" lengthAdjust="spacingAndGlyphs">negative</text>
<circle cx="442.50" cy="74.09" r="3.8" fill="#33b07a"/>
<text x="463.90" y="77.44" font-size="13.03" text-anchor="start" textLength="31.34" lengthAdjust="spacingAndGlyphs">polar</text>
<circle cx="442.50" cy="91.81" r="3.8" fill="#38a9c5"/>
<text x="463.90" y="95.16" font-size="13.03" text-anchor="start" textLength="46.94" lengthAdjust="spacingAndGlyphs">unpolar</text>
<circle cx="442.50" cy="109.53" r="3.8" fill="#cc7af4"/>
<text x="463.90" y="112.88" font-size="13.03" text-anchor="start" textLength="54.64" lengthAdjust="spacingAndGlyphs">aromatic</text>
<path d="M457.8,189.5 L465.8,183.1 M478.2,170.4 Q488.0,160.8 503.6,152.8" fill="none" stroke="#777" stroke-width="1.2"/>
<g fill-opacity="0.58" stroke="#fff" stroke-opacity="0.58" stroke-width="1.1" filter="url(#bl)">
<circle cx="433.9" cy="186.3" r="2.7" fill="#cc7af4"/>
<circle cx="437.2" cy="186.8" r="2.7" fill="#cc7af4"/>
<circle cx="446.9" cy="182.4" r="2.7" fill="#cc7af4"/>
<circle cx="448.2" cy="184.9" r="2.7" fill="#cc7af4"/>
<circle cx="444.1" cy="188.6" r="2.7" fill="#cc7af4"/>
<circle cx="446.9" cy="189.5" r="2.7" fill="#cc7af4"/>
<circle cx="449.6" cy="187.7" r="2.7" fill="#cc7af4"/>
<circle cx="451.0" cy="190.0" r="2.7" fill="#cc7af4"/>
<circle cx="433.0" cy="194.2" r="2.7" fill="#cc7af4"/>
<circle cx="439.0" cy="193.2" r="2.7" fill="#cc7af4"/>
<circle cx="438.5" cy="196.5" r="2.7" fill="#cc7af4"/>
<circle cx="444.1" cy="195.1" r="2.7" fill="#cc7af4"/>
<circle cx="447.3" cy="194.2" r="2.7" fill="#cc7af4"/>
<circle cx="449.6" cy="193.7" r="2.7" fill="#cc7af4"/>
<circle cx="453.8" cy="192.8" r="2.7" fill="#cc7af4"/>
<circle cx="454.7" cy="196.5" r="2.7" fill="#cc7af4"/>
<circle cx="452.4" cy="198.8" r="2.7" fill="#cc7af4"/>
<circle cx="442.2" cy="198.8" r="2.7" fill="#cc7af4"/>
<circle cx="436.2" cy="200.2" r="2.7" fill="#cc7af4"/>
<circle cx="447.5" cy="198.5" r="2.7" fill="#cc7af4"/>
<circle cx="445.5" cy="200.8" r="2.7" fill="#cc7af4"/>
<circle cx="440.9" cy="190.0" r="2.7" fill="#cc7af4"/>
<circle cx="439.0" cy="202.5" r="2.7" fill="#cc7af4"/>
<circle cx="442.7" cy="202.9" r="2.7" fill="#cc7af4"/>
<circle cx="446.4" cy="204.8" r="2.7" fill="#cc7af4"/>
<circle cx="443.6" cy="205.7" r="2.7" fill="#cc7af4"/>
<circle cx="509.9" cy="142.0" r="2.7" fill="#cc7af4"/>
<circle cx="516.4" cy="139.8" r="2.7" fill="#cc7af4"/>
<circle cx="516.9" cy="143.1" r="2.7" fill="#cc7af4"/>
<circle cx="519.1" cy="145.2" r="2.7" fill="#cc7af4"/>
<circle cx="514.2" cy="145.8" r="2.7" fill="#cc7af4"/>
<circle cx="509.4" cy="147.4" r="2.7" fill="#cc7af4"/>
<circle cx="512.6" cy="148.5" r="2.7" fill="#cc7af4"/>
<circle cx="518.0" cy="150.1" r="2.7" fill="#cc7af4"/>
<circle cx="521.8" cy="149.0" r="2.7" fill="#cc7af4"/>
<circle cx="526.6" cy="148.5" r="2.7" fill="#cc7af4"/>
<circle cx="508.3" cy="152.2" r="2.7" fill="#cc7af4"/>
<circle cx="511.0" cy="153.8" r="2.7" fill="#cc7af4"/>
<circle cx="515.3" cy="153.3" r="2.7" fill="#cc7af4"/>
<circle cx="519.6" cy="152.8" r="2.7" fill="#cc7af4"/>
<circle cx="522.8" cy="153.8" r="2.7" fill="#cc7af4"/>
<circle cx="526.6" cy="152.8" r="2.7" fill="#cc7af4"/>
<circle cx="526.1" cy="157.6" r="2.7" fill="#cc7af4"/>
<circle cx="536.8" cy="146.8" r="2.7" fill="#cc7af4"/>
<circle cx="539.5" cy="150.1" r="2.7" fill="#cc7af4"/>
<circle cx="533.6" cy="156.5" r="2.7" fill="#cc7af4"/>
<circle cx="532.5" cy="160.3" r="2.7" fill="#cc7af4"/>
<circle cx="535.8" cy="162.4" r="2.7" fill="#cc7af4"/>
<circle cx="542.2" cy="156.5" r="2.7" fill="#cc7af4"/>
<circle cx="543.3" cy="160.3" r="2.7" fill="#cc7af4"/>
<circle cx="547.1" cy="159.2" r="2.7" fill="#cc7af4"/>
<circle cx="543.3" cy="163.5" r="2.7" fill="#cc7af4"/>
<circle cx="539.5" cy="161.9" r="2.7" fill="#cc7af4"/>
<circle cx="638.9" cy="16.1" r="2.7" fill="#38a9c5"/>
<circle cx="641.6" cy="14.7" r="2.7" fill="#38a9c5"/>
<circle cx="640.9" cy="18.2" r="2.7" fill="#38a9c5"/>
<circle cx="644.4" cy="18.9" r="2.7" fill="#38a9c5"/>
<circle cx="643.7" cy="20.2" r="2.7" fill="#38a9c5"/>
<circle cx="646.5" cy="19.5" r="2.7" fill="#38a9c5"/>
<circle cx="638.2" cy="22.3" r="2.7" fill="#38a9c5"/>
<circle cx="636.8" cy="21.6" r="2.7" fill="#38a9c5"/>
<circle cx="640.9" cy="25.8" r="2.7" fill="#38a9c5"/>
<circle cx="644.4" cy="29.2" r="2.7" fill="#38a9c5"/>
<circle cx="642.3" cy="30.6" r="2.7" fill="#38a9c5"/>
<circle cx="641.6" cy="36.2" r="2.7" fill="#38a9c5"/>
<circle cx="643.7" cy="38.3" r="2.7" fill="#38a9c5"/>
<circle cx="646.5" cy="37.6" r="2.7" fill="#38a9c5"/>
<circle cx="643.0" cy="34.8" r="2.7" fill="#38a9c5"/>
<circle cx="627.8" cy="36.2" r="2.7" fill="#38a9c5"/>
<circle cx="631.2" cy="38.3" r="2.7" fill="#38a9c5"/>
<circle cx="625.0" cy="40.3" r="2.7" fill="#38a9c5"/>
<circle cx="621.5" cy="41.0" r="2.7" fill="#38a9c5"/>
<circle cx="617.4" cy="38.9" r="2.7" fill="#38a9c5"/>
<circle cx="615.3" cy="41.7" r="2.7" fill="#38a9c5"/>
<circle cx="619.5" cy="42.4" r="2.7" fill="#38a9c5"/>
<circle cx="625.7" cy="43.1" r="2.7" fill="#38a9c5"/>
<circle cx="619.1" cy="79.9" r="2.7" fill="#38a9c5"/>
<circle cx="617.9" cy="81.7" r="2.7" fill="#38a9c5"/>
<circle cx="617.2" cy="92.8" r="2.7" fill="#38a9c5"/>
<circle cx="614.2" cy="95.9" r="2.7" fill="#38a9c5"/>
<circle cx="613.6" cy="97.1" r="2.7" fill="#38a9c5"/>
<circle cx="597.5" cy="96.5" r="2.7" fill="#33b07a"/>
<circle cx="593.8" cy="100.2" r="2.7" fill="#33b07a"/>
<circle cx="614.1" cy="110.9" r="2.7" fill="#f77189"/>
<circle cx="601.7" cy="120.1" r="2.7" fill="#f77189"/>
<circle cx="602.8" cy="126.0" r="2.7" fill="#f77189"/>
<circle cx="606.0" cy="124.9" r="2.7" fill="#f77189"/>
<circle cx="635.1" cy="122.2" r="2.7" fill="#ae9d31"/>
<circle cx="632.3" cy="123.5" r="2.7" fill="#ae9d31"/>
<circle cx="629.6" cy="125.3" r="2.7" fill="#ae9d31"/>
<circle cx="622.2" cy="130.9" r="2.7" fill="#ae9d31"/>
<circle cx="620.3" cy="133.9" r="2.7" fill="#ae9d31"/>
<circle cx="619.7" cy="139.0" r="2.7" fill="#ae9d31"/>
<circle cx="627.4" cy="139.0" r="2.7" fill="#ae9d31"/>
<circle cx="630.2" cy="135.8" r="2.7" fill="#ae9d31"/>
<circle cx="644.9" cy="116.3" r="2.7" fill="#f77189"/>
<circle cx="648.2" cy="117.2" r="2.7" fill="#f77189"/>
<circle cx="653.2" cy="120.5" r="2.7" fill="#f77189"/>
<circle cx="647.2" cy="115.3" r="2.7" fill="#f77189"/>
<circle cx="648.8" cy="119.2" r="2.7" fill="#f77189"/>
<circle cx="645.0" cy="119.0" r="2.7" fill="#f77189"/>
<circle cx="639.2" cy="122.0" r="2.7" fill="#f77189"/>
<circle cx="640.8" cy="122.8" r="2.7" fill="#f77189"/>
<circle cx="642.2" cy="124.2" r="2.7" fill="#f77189"/>
<circle cx="650.0" cy="124.6" r="2.7" fill="#f77189"/>
<circle cx="656.9" cy="124.6" r="2.7" fill="#f77189"/>
<circle cx="647.2" cy="128.3" r="2.7" fill="#f77189"/>
<circle cx="654.2" cy="127.9" r="2.7" fill="#f77189"/>
<circle cx="637.5" cy="130.2" r="2.7" fill="#f77189"/>
<circle cx="642.2" cy="134.8" r="2.7" fill="#f77189"/>
<circle cx="646.3" cy="135.3" r="2.7" fill="#f77189"/>
<circle cx="658.3" cy="136.2" r="2.7" fill="#f77189"/>
<circle cx="663.4" cy="135.7" r="2.7" fill="#f77189"/>
<circle cx="643.5" cy="143.3" r="2.7" fill="#f77189"/>
<circle cx="644.0" cy="146.5" r="2.7" fill="#f77189"/>
<circle cx="648.2" cy="146.1" r="2.7" fill="#f77189"/>
<circle cx="656.0" cy="146.0" r="2.7" fill="#f77189"/>
<circle cx="655.1" cy="147.9" r="2.7" fill="#f77189"/>
<circle cx="659.7" cy="146.1" r="2.7" fill="#f77189"/>
<circle cx="664.3" cy="145.6" r="2.7" fill="#f77189"/>
<circle cx="661.6" cy="149.3" r="2.7" fill="#f77189"/>
<circle cx="666.6" cy="149.8" r="2.7" fill="#f77189"/>
<circle cx="655.1" cy="153.0" r="2.7" fill="#f77189"/>
<circle cx="658.8" cy="154.9" r="2.7" fill="#f77189"/>
<circle cx="663.9" cy="155.3" r="2.7" fill="#f77189"/>
<circle cx="653.2" cy="158.1" r="2.7" fill="#f77189"/>
<circle cx="652.8" cy="162.3" r="2.7" fill="#f77189"/>
<circle cx="658.5" cy="150.5" r="2.7" fill="#f77189"/>
<circle cx="664.8" cy="138.8" r="2.7" fill="#f77189"/>
<circle cx="656.5" cy="129.5" r="2.7" fill="#f77189"/>
<circle cx="659.2" cy="128.2" r="2.7" fill="#f77189"/>
<circle cx="660.5" cy="152.0" r="2.7" fill="#f77189"/>
<circle cx="657.0" cy="149.5" r="2.7" fill="#f77189"/>
<circle cx="644.3" cy="176.3" r="2.7" fill="#f77189"/>
<circle cx="644.9" cy="122.8" r="2.7" fill="#38a9c5"/>
<circle cx="641.2" cy="130.6" r="2.7" fill="#38a9c5"/>
<circle cx="589.2" cy="135.5" r="2.7" fill="#cc7af4"/>
<circle cx="593.5" cy="136.7" r="2.7" fill="#cc7af4"/>
<circle cx="600.3" cy="134.8" r="2.7" fill="#cc7af4"/>
<circle cx="585.5" cy="139.8" r="2.7" fill="#cc7af4"/>
<circle cx="584.9" cy="142.8" r="2.7" fill="#cc7af4"/>
<circle cx="580.6" cy="144.4" r="2.7" fill="#cc7af4"/>
<circle cx="602.1" cy="144.1" r="2.7" fill="#cc7af4"/>
<circle cx="596.6" cy="147.8" r="2.7" fill="#cc7af4"/>
<circle cx="593.5" cy="150.2" r="2.7" fill="#cc7af4"/>
<circle cx="598.4" cy="150.8" r="2.7" fill="#cc7af4"/>
<circle cx="611.1" cy="153.1" r="2.7" fill="#33b07a"/>
<circle cx="611.7" cy="155.5" r="2.7" fill="#33b07a"/>
<circle cx="614.0" cy="154.0" r="2.7" fill="#33b07a"/>
<circle cx="615.4" cy="151.2" r="2.7" fill="#ae9d31"/>
<circle cx="613.5" cy="163.5" r="2.7" fill="#ae9d31"/>
<circle cx="611.1" cy="170.3" r="2.7" fill="#ae9d31"/>
<circle cx="609.5" cy="170.0" r="2.7" fill="#ae9d31"/>
<circle cx="606.2" cy="160.5" r="2.7" fill="#38a9c5"/>
<circle cx="635.1" cy="158.6" r="2.7" fill="#38a9c5"/>
<circle cx="635.7" cy="178.3" r="2.7" fill="#38a9c5"/>
<circle cx="633.2" cy="183.2" r="2.7" fill="#38a9c5"/>
<circle cx="633.8" cy="185.1" r="2.7" fill="#38a9c5"/>
<circle cx="642.3" cy="175.7" r="2.7" fill="#38a9c5"/>
<circle cx="649.1" cy="159.9" r="2.7" fill="#38a9c5"/>
<circle cx="631.4" cy="161.1" r="2.7" fill="#33b07a"/>
<circle cx="643.0" cy="158.6" r="2.7" fill="#33b07a"/>
<circle cx="604.9" cy="180.8" r="2.7" fill="#33b07a"/>
<circle cx="607.4" cy="182.3" r="2.7" fill="#33b07a"/>
<circle cx="605.2" cy="186.3" r="2.7" fill="#33b07a"/>
<circle cx="612.9" cy="189.9" r="2.7" fill="#33b07a"/>
<circle cx="611.5" cy="194.1" r="2.7" fill="#33b07a"/>
<circle cx="615.0" cy="194.8" r="2.7" fill="#33b07a"/>
<circle cx="630.3" cy="190.6" r="2.7" fill="#33b07a"/>
<circle cx="635.1" cy="194.1" r="2.7" fill="#33b07a"/>
<circle cx="638.6" cy="200.3" r="2.7" fill="#33b07a"/>
<circle cx="636.5" cy="196.9" r="2.7" fill="#33b07a"/>
<circle cx="620.6" cy="203.1" r="2.7" fill="#33b07a"/>
<circle cx="620.4" cy="207.5" r="2.7" fill="#33b07a"/>
<circle cx="663.4" cy="181.0" r="2.7" fill="#f77189"/>
<circle cx="665.6" cy="183.2" r="2.7" fill="#f77189"/>
<circle cx="653.4" cy="186.0" r="2.7" fill="#f77189"/>
<circle cx="658.5" cy="191.0" r="2.7" fill="#f77189"/>
<circle cx="680.9" cy="184.2" r="2.7" fill="#f77189"/>
<circle cx="687.4" cy="183.6" r="2.7" fill="#f77189"/>
<circle cx="690.1" cy="186.8" r="2.7" fill="#f77189"/>
<circle cx="689.8" cy="190.0" r="2.7" fill="#f77189"/>
<circle cx="686.2" cy="192.4" r="2.7" fill="#f77189"/>
<circle cx="659.1" cy="196.8" r="2.7" fill="#f77189"/>
<circle cx="658.8" cy="199.5" r="2.7" fill="#f77189"/>
<circle cx="665.9" cy="196.1" r="2.7" fill="#f77189"/>
<circle cx="663.2" cy="201.2" r="2.7" fill="#f77189"/>
<circle cx="664.9" cy="202.5" r="2.7" fill="#f77189"/>
<circle cx="666.6" cy="204.6" r="2.7" fill="#f77189"/>
<circle cx="671.0" cy="200.5" r="2.7" fill="#f77189"/>
<circle cx="670.0" cy="203.0" r="2.7" fill="#f77189"/>
<circle cx="677.1" cy="198.8" r="2.7" fill="#f77189"/>
<circle cx="678.4" cy="201.5" r="2.7" fill="#f77189"/>
<circle cx="655.8" cy="205.2" r="2.7" fill="#f77189"/>
<circle cx="661.5" cy="207.3" r="2.7" fill="#f77189"/>
<circle cx="668.3" cy="207.9" r="2.7" fill="#f77189"/>
<circle cx="666.2" cy="205.8" r="2.7" fill="#f77189"/>
<circle cx="620.2" cy="206.0" r="2.7" fill="#33b07a"/>
<circle cx="615.4" cy="229.2" r="2.7" fill="#33b07a"/>
<circle cx="612.6" cy="231.5" r="2.7" fill="#33b07a"/>
<circle cx="616.1" cy="220.8" r="2.7" fill="#33b07a"/>
<circle cx="602.9" cy="236.2" r="2.7" fill="#33b07a"/>
<circle cx="600.9" cy="239.6" r="2.7" fill="#33b07a"/>
<circle cx="605.0" cy="234.8" r="2.7" fill="#33b07a"/>
<circle cx="563.9" cy="271.1" r="2.7" fill="#38a9c5"/>
<circle cx="566.2" cy="276.2" r="2.7" fill="#38a9c5"/>
<circle cx="570.4" cy="273.9" r="2.7" fill="#38a9c5"/>
<circle cx="572.2" cy="278.5" r="2.7" fill="#38a9c5"/>
<circle cx="580.5" cy="266.5" r="2.7" fill="#38a9c5"/>
<circle cx="583.8" cy="272.1" r="2.7" fill="#38a9c5"/>
<circle cx="587.9" cy="269.3" r="2.7" fill="#38a9c5"/>
<circle cx="585.6" cy="271.1" r="2.7" fill="#38a9c5"/>
<circle cx="568.1" cy="273.0" r="2.7" fill="#38a9c5"/>
</g>
<g>
<text x="466.09" y="179.99" font-size="11.44" font-weight="bold" textLength="11.91" lengthAdjust="spacingAndGlyphs" style="fill:#000;stroke:#fff;stroke-width:2.4px;paint-order:stroke;stroke-linejoin:round">W</text><text x="466.09" y="179.99" font-size="11.44" font-weight="bold" textLength="11.91" lengthAdjust="spacingAndGlyphs" style="fill:#000;stroke:#000;stroke-width:0.4px">W</text>
<text x="533.73" y="161.14" font-size="11.44" font-weight="bold" textLength="7.82" lengthAdjust="spacingAndGlyphs" style="fill:#000;stroke:#fff;stroke-width:2.4px;paint-order:stroke;stroke-linejoin:round">Y</text><text x="533.73" y="161.14" font-size="11.44" font-weight="bold" textLength="7.82" lengthAdjust="spacingAndGlyphs" style="fill:#000;stroke:#000;stroke-width:0.4px">Y</text>
<text x="630.84" y="28.24" font-size="11.44" font-weight="bold" textLength="4.02" lengthAdjust="spacingAndGlyphs" style="fill:#000;stroke:#fff;stroke-width:2.4px;paint-order:stroke;stroke-linejoin:round">I</text><text x="630.84" y="28.24" font-size="11.44" font-weight="bold" textLength="4.02" lengthAdjust="spacingAndGlyphs" style="fill:#000;stroke:#000;stroke-width:0.4px">I</text>
<text x="628.53" y="35.29" font-size="11.44" font-weight="bold" textLength="10.75" lengthAdjust="spacingAndGlyphs" style="fill:#000;stroke:#fff;stroke-width:2.4px;paint-order:stroke;stroke-linejoin:round">M</text><text x="628.53" y="35.29" font-size="11.44" font-weight="bold" textLength="10.75" lengthAdjust="spacingAndGlyphs" style="fill:#000;stroke:#000;stroke-width:0.4px">M</text>
<text x="649.72" y="35.29" font-size="11.44" font-weight="bold" textLength="8.36" lengthAdjust="spacingAndGlyphs" style="fill:#000;stroke:#fff;stroke-width:2.4px;paint-order:stroke;stroke-linejoin:round">V</text><text x="649.72" y="35.29" font-size="11.44" font-weight="bold" textLength="8.36" lengthAdjust="spacingAndGlyphs" style="fill:#000;stroke:#000;stroke-width:0.4px">V</text>
<text x="613.66" y="91.04" font-size="11.44" font-weight="bold" textLength="6.88" lengthAdjust="spacingAndGlyphs" style="fill:#000;stroke:#fff;stroke-width:2.4px;paint-order:stroke;stroke-linejoin:round">L</text><text x="613.66" y="91.04" font-size="11.44" font-weight="bold" textLength="6.88" lengthAdjust="spacingAndGlyphs" style="fill:#000;stroke:#000;stroke-width:0.4px">L</text>
<text x="592.82" y="99.94" font-size="11.44" font-weight="bold" textLength="9.18" lengthAdjust="spacingAndGlyphs" style="fill:#000;stroke:#fff;stroke-width:2.4px;paint-order:stroke;stroke-linejoin:round">Q</text><text x="592.82" y="99.94" font-size="11.44" font-weight="bold" textLength="9.18" lengthAdjust="spacingAndGlyphs" style="fill:#000;stroke:#000;stroke-width:0.4px">Q</text>
<text x="602.32" y="123.74" font-size="11.44" font-weight="bold" textLength="8.32" lengthAdjust="spacingAndGlyphs" style="fill:#000;stroke:#fff;stroke-width:2.4px;paint-order:stroke;stroke-linejoin:round">R</text><text x="602.32" y="123.74" font-size="11.44" font-weight="bold" textLength="8.32" lengthAdjust="spacingAndGlyphs" style="fill:#000;stroke:#000;stroke-width:0.4px">R</text>
<text x="623.76" y="135.04" font-size="11.44" font-weight="bold" textLength="7.38" lengthAdjust="spacingAndGlyphs" style="fill:#000;stroke:#fff;stroke-width:2.4px;paint-order:stroke;stroke-linejoin:round">E</text><text x="623.76" y="135.04" font-size="11.44" font-weight="bold" textLength="7.38" lengthAdjust="spacingAndGlyphs" style="fill:#000;stroke:#000;stroke-width:0.4px">E</text>
<text x="648.53" y="139.79" font-size="11.44" font-weight="bold" textLength="8.37" lengthAdjust="spacingAndGlyphs" style="fill:#000;stroke:#fff;stroke-width:2.4px;paint-order:stroke;stroke-linejoin:round">K</text><text x="648.53" y="139.79" font-size="11.44" font-weight="bold" textLength="8.37" lengthAdjust="spacingAndGlyphs" style="fill:#000;stroke:#000;stroke-width:0.4px">K</text>
<text x="588.38" y="147.84" font-size="11.44" font-weight="bold" textLength="7.38" lengthAdjust="spacingAndGlyphs" style="fill:#000;stroke:#fff;stroke-width:2.4px;paint-order:stroke;stroke-linejoin:round">F</text><text x="588.38" y="147.84" font-size="11.44" font-weight="bold" textLength="7.38" lengthAdjust="spacingAndGlyphs" style="fill:#000;stroke:#000;stroke-width:0.4px">F</text>
<text x="616.78" y="159.24" font-size="11.44" font-weight="bold" textLength="9.04" lengthAdjust="spacingAndGlyphs" style="fill:#000;stroke:#fff;stroke-width:2.4px;paint-order:stroke;stroke-linejoin:round">N</text><text x="616.78" y="159.24" font-size="11.44" font-weight="bold" textLength="9.04" lengthAdjust="spacingAndGlyphs" style="fill:#000;stroke:#000;stroke-width:0.4px">N</text>
<text x="609.96" y="167.19" font-size="11.44" font-weight="bold" textLength="8.96" lengthAdjust="spacingAndGlyphs" style="fill:#000;stroke:#fff;stroke-width:2.4px;paint-order:stroke;stroke-linejoin:round">D</text><text x="609.96" y="167.19" font-size="11.44" font-weight="bold" textLength="8.96" lengthAdjust="spacingAndGlyphs" style="fill:#000;stroke:#000;stroke-width:0.4px">D</text>
<text x="630.99" y="171.94" font-size="11.44" font-weight="bold" textLength="8.86" lengthAdjust="spacingAndGlyphs" style="fill:#000;stroke:#fff;stroke-width:2.4px;paint-order:stroke;stroke-linejoin:round">G</text><text x="630.99" y="171.94" font-size="11.44" font-weight="bold" textLength="8.86" lengthAdjust="spacingAndGlyphs" style="fill:#000;stroke:#000;stroke-width:0.4px">G</text>
<text x="606.35" y="190.44" font-size="11.44" font-weight="bold" textLength="7.92" lengthAdjust="spacingAndGlyphs" style="fill:#000;stroke:#fff;stroke-width:2.4px;paint-order:stroke;stroke-linejoin:round">P</text><text x="606.35" y="190.44" font-size="11.44" font-weight="bold" textLength="7.92" lengthAdjust="spacingAndGlyphs" style="fill:#000;stroke:#000;stroke-width:0.4px">P</text>
<text x="627.87" y="202.04" font-size="11.44" font-weight="bold" textLength="7.78" lengthAdjust="spacingAndGlyphs" style="fill:#000;stroke:#fff;stroke-width:2.4px;paint-order:stroke;stroke-linejoin:round">S</text><text x="627.87" y="202.04" font-size="11.44" font-weight="bold" textLength="7.78" lengthAdjust="spacingAndGlyphs" style="fill:#000;stroke:#000;stroke-width:0.4px">S</text>
<text x="666.63" y="197.64" font-size="11.44" font-weight="bold" textLength="9.04" lengthAdjust="spacingAndGlyphs" style="fill:#000;stroke:#fff;stroke-width:2.4px;paint-order:stroke;stroke-linejoin:round">H</text><text x="666.63" y="197.64" font-size="11.44" font-weight="bold" textLength="9.04" lengthAdjust="spacingAndGlyphs" style="fill:#000;stroke:#000;stroke-width:0.4px">H</text>
<text x="611.46" y="225.99" font-size="11.44" font-weight="bold" textLength="7.93" lengthAdjust="spacingAndGlyphs" style="fill:#000;stroke:#fff;stroke-width:2.4px;paint-order:stroke;stroke-linejoin:round">C</text><text x="611.46" y="225.99" font-size="11.44" font-weight="bold" textLength="7.93" lengthAdjust="spacingAndGlyphs" style="fill:#000;stroke:#000;stroke-width:0.4px">C</text>
<text x="604.21" y="237.29" font-size="11.44" font-weight="bold" textLength="7.37" lengthAdjust="spacingAndGlyphs" style="fill:#000;stroke:#fff;stroke-width:2.4px;paint-order:stroke;stroke-linejoin:round">T</text><text x="604.21" y="237.29" font-size="11.44" font-weight="bold" textLength="7.37" lengthAdjust="spacingAndGlyphs" style="fill:#000;stroke:#000;stroke-width:0.4px">T</text>
<text x="572.18" y="276.29" font-size="11.44" font-weight="bold" textLength="8.36" lengthAdjust="spacingAndGlyphs" style="fill:#000;stroke:#fff;stroke-width:2.4px;paint-order:stroke;stroke-linejoin:round">A</text><text x="572.18" y="276.29" font-size="11.44" font-weight="bold" textLength="8.36" lengthAdjust="spacingAndGlyphs" style="fill:#000;stroke:#000;stroke-width:0.4px">A</text>
</g>
</svg>
</body></html>
